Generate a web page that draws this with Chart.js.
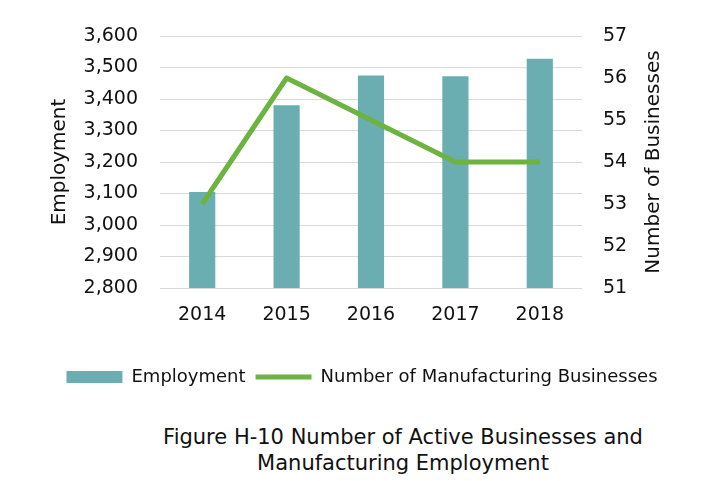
<!DOCTYPE html>
<html>
<head>
<meta charset="utf-8">
<script src="https://cdn.jsdelivr.net/npm/chart.js@4.4.0/dist/chart.umd.min.js"></script>
<style>
  body { margin: 0; background: #fff; }
  #wrap { position: relative; width: 704px; height: 481px; }
  #chart { position: absolute; left: 0; top: 0; }
  #caption {
    position: absolute; left: 103px; top: 424px; width: 600px;
    text-align: center; font-family: "DejaVu Sans"; font-size: 21px;
    line-height: 26px; color: #111;
  }
</style>
</head>
<body>
<div id="wrap">
  <canvas id="chart" width="704" height="400"></canvas>
  <div id="caption">Figure H-10 Number of Active Businesses and<br>Manufacturing Employment</div>
</div>
<script>
// yearly figures
var years = ["2014", "2015", "2016", "2017", "2018"];
var employment = [3105, 3380, 3475, 3472, 3528];
var businesses = [53, 56, 55, 54, 54];

var font = "DejaVu Sans";
var ink = "#111";

// right axis title reads bottom-to-top, same as the left one
var rightTitle = {
  id: "rightTitle",
  afterDraw: function (chart) {
    var a = chart.chartArea;
    var c = chart.ctx;
    c.save();
    c.translate(chart.width - 50, (a.top + a.bottom) / 2);
    c.rotate(-Math.PI / 2);
    c.fillStyle = ink;
    c.font = "20px " + font;
    c.textAlign = "center";
    c.textBaseline = "middle";
    c.fillText("Number of Businesses", 0, 0);
    c.restore();
  }
};

var ctx = document.getElementById("chart").getContext("2d");
var myChart = new Chart(ctx, {
  type: "bar",
  data: {
    labels: years,
    datasets: [{
      label: "Employment",
      data: employment,
      backgroundColor: "#6aaeb1",
      barPercentage: 0.31,
      categoryPercentage: 1,
      pointStyle: "rect",
      yAxisID: "y",
      order: 1
    }, {
      type: "line",
      label: "Number of Manufacturing Businesses",
      data: businesses,
      borderColor: "#6cb33f",
      backgroundColor: "#6cb33f",
      borderWidth: 5,
      tension: 0,
      pointRadius: 0,
      pointStyle: "line",
      borderJoinStyle: "round",
      yAxisID: "y1",
      order: 0
    }]
  },
  options: {
    responsive: false,
    animation: false,
    layout: { padding: { left: 20, top: 36, right: 0, bottom: 4 } },
    plugins: {
      tooltip: { enabled: false },
      legend: {
        position: "bottom",
        labels: {
          usePointStyle: true,
          pointStyleWidth: 56,
          boxHeight: 12,
          padding: 10,
          color: ink,
          font: { family: font, size: 18 },
          sort: function (a, b) { return a.datasetIndex - b.datasetIndex; }
        }
      }
    },
    scales: {
      x: {
        grid: { display: false },
        border: { display: false },
        ticks: { padding: 8, color: ink, font: { family: font, size: 19 } },
        afterFit: function (s) { s.height = 70; }
      },
      y: {
        position: "left",
        min: 2800,
        max: 3600,
        grid: { color: "#d9d9d9", drawTicks: false },
        border: { display: false },
        ticks: {
          stepSize: 100,
          padding: 22,
          color: ink,
          font: { family: font, size: 19 },
          callback: function (v) { return v.toLocaleString("en-US"); }
        },
        title: {
          display: true,
          text: "Employment",
          color: ink,
          padding: { top: 28, bottom: 0 },
          font: { family: font, size: 20 }
        },
        afterFit: function (s) { s.width = 140; }
      },
      y1: {
        position: "right",
        min: 51,
        max: 57,
        grid: { display: false, drawTicks: false },
        border: { display: false },
        ticks: { stepSize: 1, padding: 21, color: ink, font: { family: font, size: 19 } },
        afterFit: function (s) { s.width = 122; }
      }
    }
  },
  plugins: [rightTitle]
});
</script>
</body>
</html>
